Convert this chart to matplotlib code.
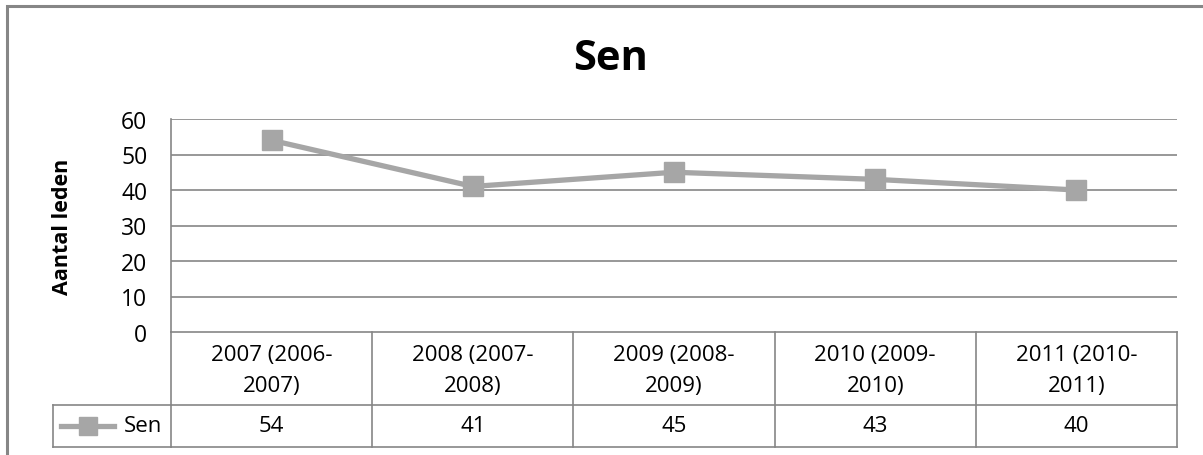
import matplotlib.pyplot as plt
from matplotlib.transforms import blended_transform_factory
from matplotlib.lines import Line2D
from matplotlib.patches import Rectangle

plt.rcParams['font.family'] = ['Open Sans', 'DejaVu Sans']

# leden per seizoen
categories = ['2007 (2006-\n2007)', '2008 (2007-\n2008)', '2009 (2008-\n2009)',
              '2010 (2009-\n2010)', '2011 (2010-\n2011)']
series_name = 'Sen'
values = [54, 41, 45, 43, 40]
yticks = [0, 10, 20, 30, 40, 50, 60]

W, H = 1203, 456
line_color = '#a6a6a6'
grid_color = '#868686'
fs = 16

fig = plt.figure(figsize=(W / 100, H / 100), dpi=100)


def fy(py):
    # pixel row (from top) -> figure fraction
    return 1 - py / H


def fx(px):
    return px / W


# rand om de hele grafiek
fig.patches.append(Rectangle((fx(7), fy(470)), fx(1210), fy(7) - fy(470),
                             transform=fig.transFigure, fill=False,
                             edgecolor=grid_color, linewidth=2.2))

ax = fig.add_axes([fx(171), fy(333), fx(1177) - fx(171), fy(120) - fy(333)])
xs = list(range(len(values)))
ax.plot(xs, values, color=line_color, linewidth=3.8, marker='s',
        markersize=14, markerfacecolor=line_color, markeredgecolor=line_color,
        zorder=3)
ax.set_xlim(-0.5, len(values) - 0.5)
ax.set_ylim(0, 60)
ax.set_yticks(yticks)
ax.set_yticklabels([str(t) for t in yticks], fontsize=16.5)
ax.tick_params(axis='y', length=0, pad=17)
ax.set_xticks([])
for t in yticks[1:]:
    ax.axhline(t, color=grid_color, linewidth=1.2, zorder=1)
for side in ['top', 'right', 'bottom']:
    ax.spines[side].set_visible(False)
ax.spines['left'].set_color(grid_color)
ax.spines['left'].set_linewidth(1.2)

ax.set_ylabel('Aantal leden', fontsize=15.5, fontweight='bold')
ax.yaxis.set_label_coords((73 - 171) / 1006, 0.5)
fig.text(fx(611), fy(59), 'Sen', fontsize=30, fontweight='bold',
         ha='center', va='center')

# datatabel onder de grafiek
tr = blended_transform_factory(ax.transData, fig.transFigure)
y_top, y_mid, y_bot = fy(333), fy(406), fy(448)
x_left, x_right = -0.5, len(values) - 0.5
legend_left = fx(53)

def hline(y, x0, x1):
    fig.add_artist(Line2D([x0, x1], [y, y], transform=tr, color=grid_color,
                          linewidth=1.2, clip_on=False))

hline(y_top, x_left, x_right)
hline(y_mid, x_left, x_right)
hline(y_bot, x_left, x_right)
for i in range(len(values) + 1):
    fig.add_artist(Line2D([i - 0.5, i - 0.5], [y_top, y_bot], transform=tr,
                          color=grid_color, linewidth=1.2, clip_on=False))

# legendacel links
for y in (y_mid, y_bot):
    fig.add_artist(Line2D([legend_left, fx(171)], [y, y], transform=fig.transFigure,
                          color=grid_color, linewidth=1.2))
fig.add_artist(Line2D([legend_left, legend_left], [y_mid, y_bot],
                      transform=fig.transFigure, color=grid_color, linewidth=1.2))
fig.add_artist(Line2D([fx(61), fx(114)], [fy(427), fy(427)],
                      transform=fig.transFigure, color=line_color, linewidth=3.8))
fig.add_artist(Line2D([fx(87.5)], [fy(427)], transform=fig.transFigure,
                      marker='s', markersize=13, color=line_color, linestyle='none'))
fig.text(fx(124), fy(427), series_name, fontsize=fs, ha='left', va='center')

for i, (cat, v) in enumerate(zip(categories, values)):
    fig.text(i, fy(371), cat, transform=tr, fontsize=fs, ha='center',
             va='center', linespacing=1.65)
    fig.text(i, fy(427), str(v), transform=tr, fontsize=fs, ha='center',
             va='center')

fig.savefig('out.png', dpi=100)
